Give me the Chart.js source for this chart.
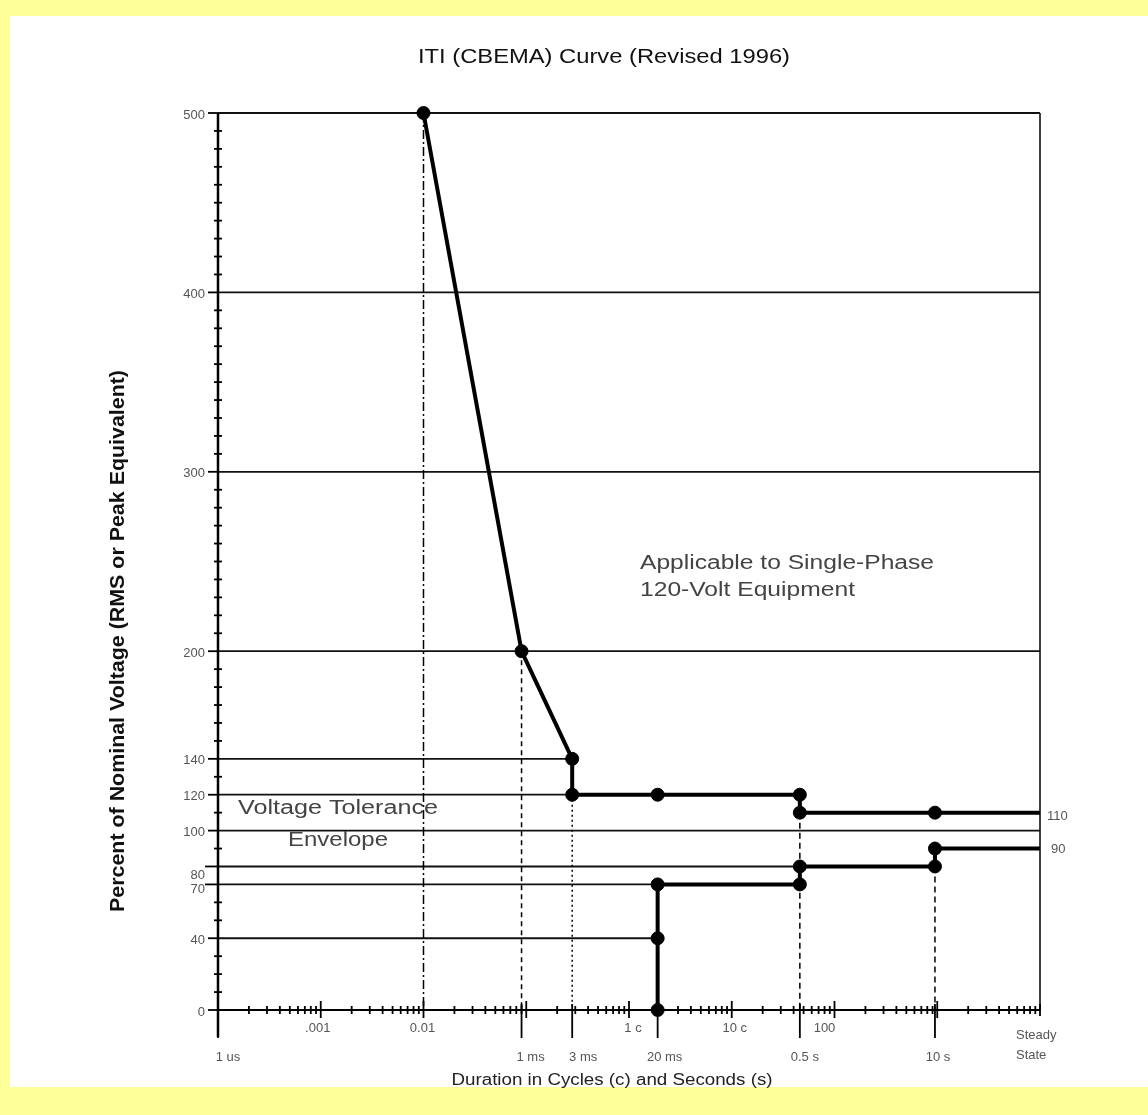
<!DOCTYPE html>
<html>
<head>
<meta charset="utf-8">
<title>ITI (CBEMA) Curve</title>
<script src="https://cdn.jsdelivr.net/npm/chart.js@4.4.0/dist/chart.umd.min.js"></script>
<style>
html, body { margin: 0; padding: 0; background: #ffff99; }
canvas { display: block; }
</style>
</head>
<body>
<canvas id="iti" width="1148" height="1115"></canvas>
<script>
// x in cycles (60 Hz, log axis), y in percent of nominal voltage
var upperX = [0.01, 0.09, 0.28, 0.28, 1.9, 46, 46, 950, 10000];
var upperY = [500, 200, 140, 120, 120, 120, 110, 110, 110];
var lowerX = [1.9, 1.9, 1.9, 46, 46, 950, 950, 10000];
var lowerY = [0, 40, 70, 70, 80, 80, 90, 90];

// horizontal reference lines and where they stop
var levelY = [500, 400, 300, 200, 140, 120, 100, 80, 70, 40];
var levelEndX = [10000, 10000, 10000, 10000, 0.28, 0.28, 10000, 46, 1.9, 1.9];

// dashed drop lines down to 0
var dropX = [0.01, 0.09, 0.28, 46, 950];
var dropTopY = [500, 200, 120, 110, 80];

var yTicks = [500, 400, 300, 200, 140, 120, 100, 80, 70, 40, 0];
var xDecades = [0.001, 0.01, 1, 10, 100];
var xDecadeLabels = ['.001', '0.01', '1 c', '10 c', '100'];
var xEvents = [0.0001, 0.09, 0.28, 1.9, 46, 950];
var xEventLabels = ['1 us', '1 ms', '3 ms', '20 ms', '0.5 s', '10 s'];

function pts(xs, ys) {
  return xs.map(function (x, i) { return { x: x, y: ys[i] }; });
}

function line(ctx, ax, ay, bx, by) {
  ctx.beginPath();
  ctx.moveTo(ax, ay);
  ctx.lineTo(bx, by);
  ctx.stroke();
}

// draw text squeezed/stretched to a given width
function fitText(ctx, text, x, y, w, align) {
  var m = ctx.measureText(text).width;
  ctx.save();
  ctx.translate(x, y);
  ctx.scale(w / m, 1);
  ctx.textAlign = align || 'center';
  ctx.fillText(text, 0, 0);
  ctx.restore();
}

var curveStyle = function (xs) {
  return {
    borderColor: '#000',
    borderWidth: 4,
    borderJoinStyle: 'round',
    pointBackgroundColor: '#000',
    pointBorderColor: '#000',
    pointBorderWidth: 1,
    pointRadius: function (c) { return c.dataIndex === xs.length - 1 ? 0 : 6.5; },
    showLine: true,
    clip: false
  };
};

var datasets = [];
datasets.push(Object.assign({ data: pts(upperX, upperY) }, curveStyle(upperX)));
datasets.push(Object.assign({ data: pts(lowerX, lowerY) }, curveStyle(lowerX)));

var dashes = [[9, 3, 2, 3], [5, 4], [2, 3], [6, 4], [6, 4]];
dropX.forEach(function (x, i) {
  datasets.push({
    data: [{ x: x, y: dropTopY[i] }, { x: x, y: 0 }],
    borderColor: '#000',
    borderWidth: 1.5,
    borderDash: dashes[i],
    pointRadius: 0,
    showLine: true
  });
});

levelY.forEach(function (y, i) {
  datasets.push({
    data: [{ x: 0.0001, y: y }, { x: levelEndX[i], y: y }],
    borderColor: '#111',
    borderWidth: 1.8,
    pointRadius: 0,
    showLine: true,
    clip: false
  });
});

var framePlugin = {
  id: 'frame',
  beforeDraw: function (chart) {
    var ctx = chart.ctx;
    ctx.save();
    ctx.fillStyle = '#ffff99';
    ctx.fillRect(0, 0, chart.width, chart.height);
    ctx.fillStyle = '#ffffff';
    ctx.fillRect(10, 16, chart.width - 10, 1071);
    ctx.restore();
  },
  afterDraw: function (chart) {
    var ctx = chart.ctx, xs = chart.scales.x, ys = chart.scales.y, a = chart.chartArea;
    var x0 = a.left, x1 = a.right, yb = a.bottom;
    ctx.save();
    ctx.strokeStyle = '#000';

    // axes frame
    ctx.lineWidth = 2.5;
    line(ctx, x0, a.top, x0, yb + 27);
    ctx.lineWidth = 2;
    line(ctx, x0, yb, x1, yb);
    ctx.lineWidth = 1.5;
    line(ctx, x1, a.top, x1, yb);

    // y minor ticks every 10
    ctx.lineWidth = 1.8;
    for (var v = 10; v < 500; v += 10) {
      if (yTicks.indexOf(v) >= 0) continue;
      var py = ys.getPixelForValue(v);
      line(ctx, x0 - 4, py, x0 + 4, py);
    }

    // y major stubs and labels
    ctx.font = '13px "Liberation Sans Narrow", "Liberation Sans", Arial, sans-serif';
    ctx.fillStyle = '#555';
    ctx.textAlign = 'right';
    ctx.textBaseline = 'middle';
    yTicks.forEach(function (t) {
      var py = ys.getPixelForValue(t);
      var stub = (t === 80 || t === 70) ? 13 : 10;
      line(ctx, x0 - stub, py, x0, py);
      var shift = t === 80 ? 9 : (t === 70 ? 5 : 2);
      ctx.fillText(String(t), x0 - 13, py + shift);
    });

    // x minor ticks (log 2..9)
    ctx.lineWidth = 1.8;
    for (var d = -4; d < 4; d++) {
      for (var m = 2; m <= 9; m++) {
        var px = xs.getPixelForValue(m * Math.pow(10, d));
        line(ctx, px, yb - 4, px, yb + 4);
      }
    }
    // decade ticks
    for (var e = -3; e <= 3; e++) {
      var pxd = xs.getPixelForValue(Math.pow(10, e));
      line(ctx, pxd, yb - 9, pxd, yb + 8);
    }
    // long event ticks
    xEvents.forEach(function (xv) {
      var pxe = xs.getPixelForValue(xv);
      line(ctx, pxe, yb - 6, pxe, yb + 28);
    });
    line(ctx, x1, yb - 6, x1, yb + 6);

    // x labels
    ctx.textAlign = 'center';
    ctx.textBaseline = 'middle';
    var decNudge = [-3, -1, 4, 3, -10];
    xDecades.forEach(function (xv, i) {
      ctx.fillText(xDecadeLabels[i], xs.getPixelForValue(xv) + decNudge[i], yb + 18);
    });
    var evNudge = [10, 9, 11, 7, 5, 3];
    xEvents.forEach(function (xv, i) {
      ctx.fillText(xEventLabels[i], xs.getPixelForValue(xv) + evNudge[i], yb + 47);
    });
    ctx.textAlign = 'left';
    ctx.fillText('Steady', x1 - 24, yb + 25);
    ctx.fillText('State', x1 - 24, yb + 45);

    // steady-state values on the right
    ctx.fillText(String(upperY[upperY.length - 1]), x1 + 7, ys.getPixelForValue(upperY[upperY.length - 1]) + 4);
    ctx.fillText(String(lowerY[lowerY.length - 1]), x1 + 11, ys.getPixelForValue(lowerY[lowerY.length - 1]) + 1);

    // title
    ctx.fillStyle = '#111';
    ctx.textBaseline = 'middle';
    ctx.font = '21px "Liberation Sans Narrow", "Liberation Sans", Arial, sans-serif';
    fitText(ctx, 'ITI (CBEMA) Curve (Revised 1996)', 604, 57, 372);

    // axis titles
    ctx.fillStyle = '#222';
    ctx.font = '16px "Liberation Sans", Arial, sans-serif';
    fitText(ctx, 'Duration in Cycles (c) and Seconds (s)', 612, 1081, 321);

    ctx.save();
    ctx.translate(118, 641);
    ctx.rotate(-Math.PI / 2);
    ctx.font = 'bold 20px "Liberation Sans Narrow", "Liberation Sans", Arial, sans-serif';
    ctx.fillStyle = '#111';
    fitText(ctx, 'Percent of Nominal Voltage (RMS or Peak Equivalent)', 0, 0, 542);
    ctx.restore();

    // annotations
    ctx.fillStyle = '#444';
    ctx.font = '20px "Liberation Sans", Arial, sans-serif';
    fitText(ctx, 'Applicable to Single-Phase', 640, 563, 294, 'left');
    fitText(ctx, '120-Volt Equipment', 640, 590, 215, 'left');
    fitText(ctx, 'Voltage Tolerance', 338, 808, 200);
    fitText(ctx, 'Envelope', 338, 840, 100);

    ctx.restore();
  }
};

new Chart(document.getElementById('iti'), {
  type: 'scatter',
  data: { datasets: datasets },
  options: {
    responsive: false,
    animation: false,
    events: [],
    layout: { padding: { left: 218, right: 108, top: 113, bottom: 105 } },
    scales: {
      x: { type: 'logarithmic', min: 0.0001, max: 10000, display: false },
      y: { type: 'linear', min: 0, max: 500, display: false }
    },
    plugins: { legend: { display: false }, tooltip: { enabled: false } }
  },
  plugins: [framePlugin]
});
</script>
</body>
</html>
